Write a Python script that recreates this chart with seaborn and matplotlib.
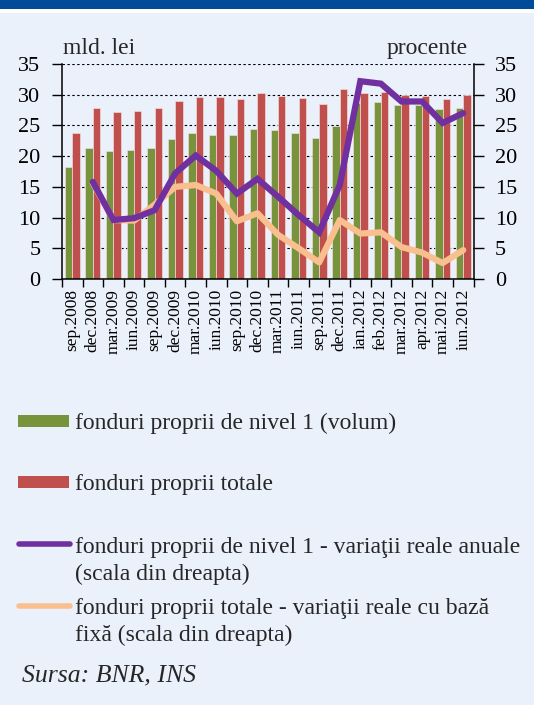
import numpy as np
import pandas as pd
import matplotlib
matplotlib.use("Agg")
import matplotlib.pyplot as plt
import seaborn as sns
from matplotlib.patches import Rectangle
from matplotlib.lines import Line2D

# ---------------- data ----------------
categories = ["sep.2008", "dec.2008", "mar.2009", "iun.2009", "sep.2009", "dec.2009",
              "mar.2010", "iun.2010", "sep.2010", "dec.2010", "mar.2011", "iun.2011",
              "sep.2011", "dec.2011", "ian.2012", "feb.2012", "mar.2012", "apr.2012",
              "mai.2012", "iun.2012"]
tier1_volume = [18.2, 21.4, 20.8, 21.0, 21.3, 22.8, 23.8, 23.5, 23.5, 24.4,
                24.3, 23.7, 23.0, 24.9, 28.7, 28.8, 28.3, 28.4, 27.6, 27.9]
total_funds = [23.7, 27.8, 27.2, 27.3, 27.9, 29.0, 29.7, 29.6, 29.3, 30.2,
               29.8, 29.4, 28.5, 30.9, 30.3, 30.5, 30.0, 29.8, 29.3, 29.9]
tier1_real_annual = [np.nan, 15.8, 9.6, 9.9, 11.2, 17.2, 20.1, 17.6, 13.9, 16.3,
                     13.4, 10.4, 7.6, 15.3, 32.2, 31.8, 28.9, 28.9, 25.4, 27.0]
total_real_fixed = [np.nan, 15.6, 9.6, 9.5, 12.1, 15.0, 15.3, 13.9, 9.4, 10.7,
                    7.2, 5.0, 2.7, 9.6, 7.4, 7.6, 5.2, 4.3, 2.6, 4.7]

lbl_green = "fonduri proprii de nivel 1 (volum)"
lbl_red = "fonduri proprii totale"
lbl_purple = "fonduri proprii de nivel 1 - variaţii reale anuale\n(scala din dreapta)"
lbl_orange = "fonduri proprii totale - variaţii reale cu bază\nfixă (scala din dreapta)"

GREEN = "#77933C"
RED = "#C0504D"
PURPLE = "#7030A0"
ORANGE = "#FABF8F"
BG = "#EAF1FB"
BAND = "#004C99"

W, H = 534, 705
sns.set_theme(style="white")
plt.rcParams["font.family"] = ["Liberation Serif", "DejaVu Serif"]

fig = plt.figure(figsize=(W / 100, H / 100), dpi=100)
fig.patch.set_facecolor(BG)


def fx(px):
    return px / W


def fy(py):
    return 1 - py / H


# top band
fig.patches.append(Rectangle((0, fy(9)), 1, 9 / H, transform=fig.transFigure,
                             facecolor=BAND, edgecolor="none", zorder=0))
fig.patches.append(Rectangle((0, fy(13)), 1, 4 / H, transform=fig.transFigure,
                             facecolor="white", edgecolor="none", zorder=0))

ax = fig.add_axes([fx(62), fy(279), fx(473.5) - fx(62), fy(64) - fy(279)])
ax.set_facecolor("none")

n = len(categories)
bars = pd.DataFrame({
    "cat": categories * 2,
    "val": tier1_volume + total_funds,
    "series": [lbl_green] * n + [lbl_red] * n,
})
sns.barplot(data=bars, x="cat", y="val", hue="series", palette=[GREEN, RED],
            width=0.72, dodge=True, saturation=1, ax=ax, legend=False,
            edgecolor="#F2D9D8", linewidth=0.5, zorder=2)

ax.set_xlim(-0.5, n - 0.5)
ax.set_ylim(0, 35)
ax.set_yticks(np.arange(0, 36, 5))
ax.yaxis.grid(True, linestyle=(0, (2.2, 2.2)), color="black", linewidth=0.8)
ax.set_axisbelow(True)
ax.set_xlabel("")
ax.set_ylabel("")
ax.set_xticks(np.arange(n))
ax.set_xticklabels(categories, rotation=90, fontsize=12.5)
ax.set_xticks(np.arange(-0.5, n, 1.0), minor=True)
ax.tick_params(axis="x", which="major", length=0, pad=7, labelcolor="black")
ax.tick_params(axis="x", which="minor", length=6, width=1, color="black", direction="out", bottom=True)
ax.tick_params(axis="y", which="major", length=7, width=1, color="black", direction="out",
               left=True, labelsize=16, pad=8.5, labelcolor="black")
for s in ["top", "right"]:
    ax.spines[s].set_visible(False)
for s in ["left", "bottom"]:
    ax.spines[s].set_color("black")
    ax.spines[s].set_linewidth(1.1)

ax2 = ax.twinx()
pos = np.arange(n)
lp = pd.DataFrame({"pos": pos, "v": tier1_real_annual}).dropna()
lo = pd.DataFrame({"pos": pos, "v": total_real_fixed}).dropna()
sns.lineplot(data=lo, x="pos", y="v", ax=ax2, color=ORANGE, linewidth=4.5,
             solid_capstyle="round", solid_joinstyle="round")
sns.lineplot(data=lp, x="pos", y="v", ax=ax2, color=PURPLE, linewidth=4.5,
             solid_capstyle="round", solid_joinstyle="miter")
ax2.set_ylim(0, 35)
ax2.set_yticks(np.arange(0, 36, 5))
ax2.set_xlim(-0.5, n - 0.5)
ax2.set_xlabel("")
ax2.set_ylabel("")
ax2.tick_params(axis="y", which="major", length=7, width=1, color="black", direction="out",
                right=True, labelsize=16, pad=8.5, labelcolor="black")
for s in ["top", "left", "bottom"]:
    ax2.spines[s].set_visible(False)
ax2.spines["right"].set_color("black")
ax2.spines["right"].set_linewidth(1.1)

# axis titles
fig.text(fx(63), fy(54), "mld. lei", fontsize=17, ha="left", va="baseline")
fig.text(fx(468), fy(54), "procente", fontsize=17, ha="right", va="baseline")

# legend (manual layout)
LS = 1.33
fig.patches.append(Rectangle((fx(18), fy(427)), fx(69) - fx(18), 12 / H,
                             transform=fig.transFigure, facecolor=GREEN, edgecolor="none"))
fig.text(fx(75), fy(429), lbl_green, fontsize=17, ha="left", va="baseline")
fig.patches.append(Rectangle((fx(18), fy(488)), fx(69) - fx(18), 12 / H,
                             transform=fig.transFigure, facecolor=RED, edgecolor="none"))
fig.text(fx(75), fy(490), lbl_red, fontsize=17, ha="left", va="baseline")
fig.lines.append(Line2D([fx(19), fx(70)], [fy(544), fy(544)], transform=fig.transFigure,
                        color=PURPLE, linewidth=4, solid_capstyle="round"))
fig.text(fx(75), fy(580), lbl_purple, fontsize=17, ha="left", va="baseline", linespacing=LS)
fig.lines.append(Line2D([fx(19), fx(70)], [fy(606), fy(606)], transform=fig.transFigure,
                        color=ORANGE, linewidth=4, solid_capstyle="round"))
fig.text(fx(75), fy(641), lbl_orange, fontsize=17, ha="left", va="baseline", linespacing=LS)
fig.text(fx(22), fy(681.5), "Sursa: BNR, INS", fontsize=18.5, style="italic",
         ha="left", va="baseline")

fig.savefig("out.png", dpi=100, facecolor=BG)
